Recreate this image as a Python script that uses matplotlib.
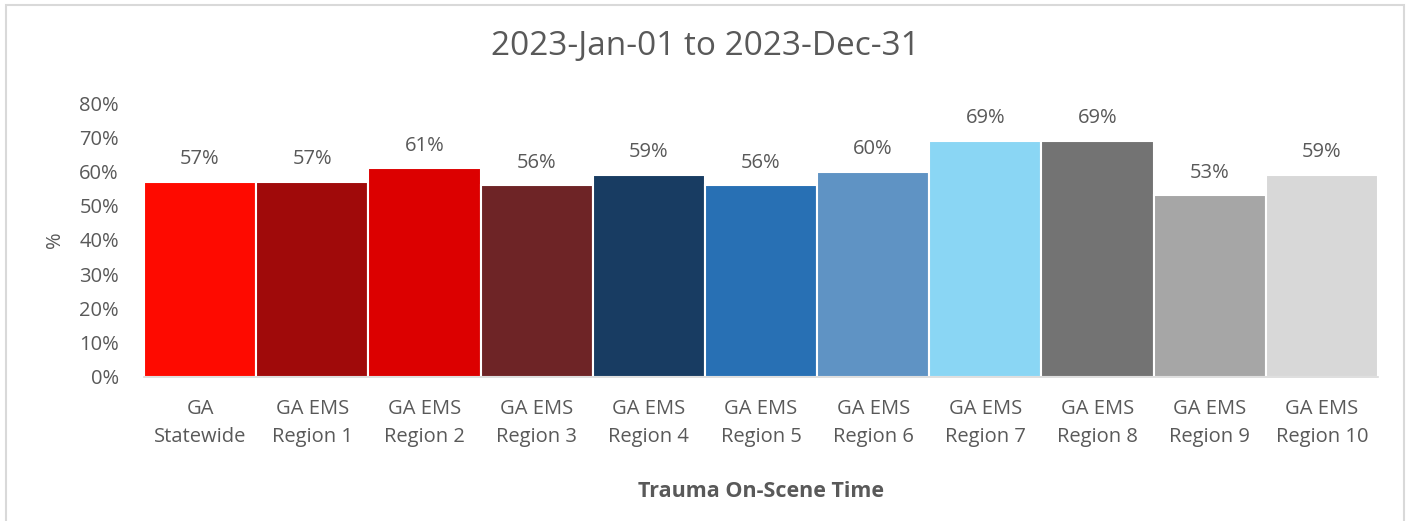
import matplotlib.pyplot as plt
from matplotlib.patches import Rectangle
from matplotlib.ticker import PercentFormatter

plt.rcParams['font.family'] = ['Open Sans', 'DejaVu Sans']

categories = ['GA\nStatewide', 'GA EMS\nRegion 1', 'GA EMS\nRegion 2', 'GA EMS\nRegion 3',
              'GA EMS\nRegion 4', 'GA EMS\nRegion 5', 'GA EMS\nRegion 6', 'GA EMS\nRegion 7',
              'GA EMS\nRegion 8', 'GA EMS\nRegion 9', 'GA EMS\nRegion 10']
values = [0.57, 0.57, 0.61, 0.56, 0.59, 0.56, 0.60, 0.69, 0.69, 0.53, 0.59]
colors = ['#FE0A00', '#A00A0A', '#DC0000', '#6E2426', '#183C62', '#2870B4',
          '#5F93C4', '#8AD6F4', '#737373', '#A6A6A6', '#D8D8D8']

txt = '#595959'

fig = plt.figure(figsize=(14.1, 5.21), dpi=100)
ax = fig.add_axes([0.1021, 0.2764, 0.8752, 0.5259])

x = range(len(values))
bars = ax.bar(x, values, width=1.0, color=colors, edgecolor='white', linewidth=1.5)
for b, v in zip(bars, values):
    ax.annotate(f'{v:.0%}', (b.get_x() + b.get_width() / 2, v), xytext=(0, 9),
                textcoords='offset points', ha='center', va='bottom', fontsize=14.5, color=txt)

ax.set_xlim(-0.5, len(values) - 0.5)
ax.set_ylim(0, 0.8)
ax.set_yticks([i / 10 for i in range(9)])
ax.yaxis.set_major_formatter(PercentFormatter(1.0, decimals=0))
ax.set_xticks(list(x))
ax.set_xticklabels(categories, fontsize=14.5, color=txt, linespacing=1.55)
ax.tick_params(axis='y', labelsize=14.5, labelcolor=txt, length=0, pad=18)
ax.tick_params(axis='x', length=0, pad=16)

for s in ['top', 'right', 'left']:
    ax.spines[s].set_visible(False)
ax.spines['bottom'].set_color('#D9D9D9')
ax.spines['bottom'].set_linewidth(1.2)

ax.set_ylabel('%', fontsize=14.5, color=txt, labelpad=10)
ax.set_xlabel('Trauma On-Scene Time', fontsize=15.5, fontweight='bold', color=txt, labelpad=24)
# title is centred on the whole chart, not on the plot area
fig.text(0.5, 0.91, '2023-Jan-01 to 2023-Dec-31', fontsize=24, color=txt,
         ha='center', va='center')

# light border around the chart
fig.patches.append(Rectangle((0.004, -0.01), 0.992, 1.0, transform=fig.transFigure,
                             fill=False, edgecolor='#D9D9D9', linewidth=1.5))

plt.savefig('out.png', dpi=100)
